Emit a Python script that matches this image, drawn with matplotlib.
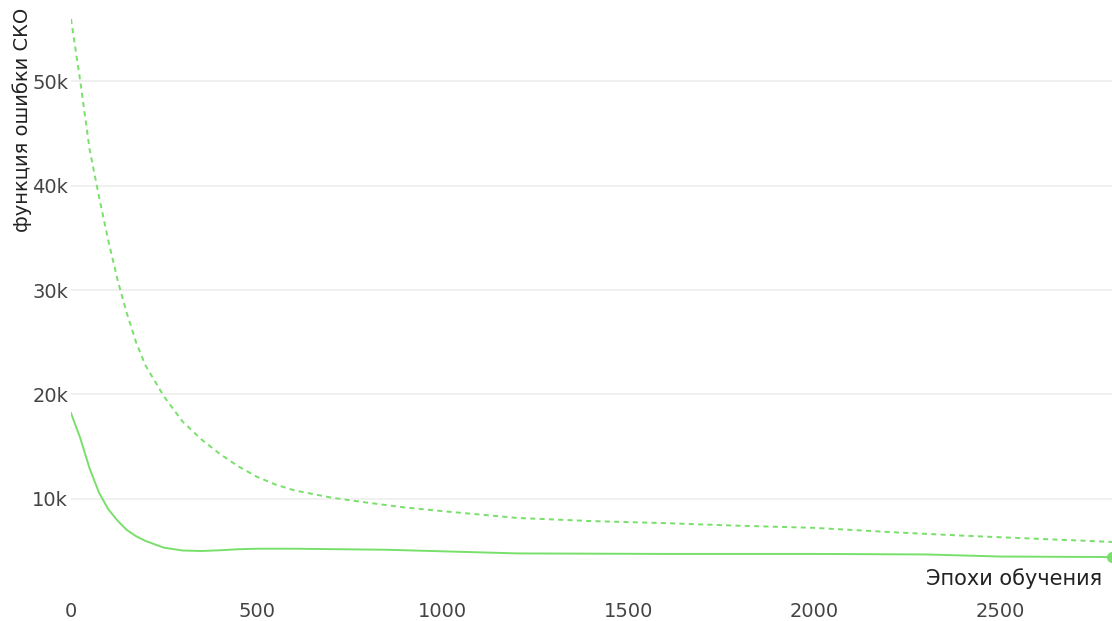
import matplotlib
matplotlib.use("Agg")
import matplotlib.pyplot as plt
from matplotlib.ticker import FuncFormatter

# training curves, MSE loss per epoch
epochs_val = [0, 25, 50, 75, 100, 125, 150, 175, 200, 250, 300, 350, 400,
              450, 500, 550, 600, 700, 800, 900, 1000, 1200, 1400, 1600,
              1800, 2000, 2200, 2400, 2600, 2800]
loss_val = [56000, 50000, 43500, 39000, 34800, 31000, 27800, 25000, 22800,
            19800, 17400, 15700, 14300, 13100, 12100, 11350, 10800, 10100,
            9600, 9150, 8800, 8150, 7850, 7650, 7400, 7200, 6800, 6450, 6150,
            5850]

epochs_train = [0, 25, 50, 75, 100, 125, 150, 175, 200, 250, 300, 350, 400,
                450, 500, 600, 850, 1000, 1200, 1600, 2000, 2300, 2500, 2800]
loss_train = [18200, 15800, 12900, 10600, 9000, 7900, 7000, 6400, 5950, 5300,
              5030, 4980, 5050, 5150, 5200, 5200, 5100, 4950, 4750, 4700,
              4700, 4650, 4450, 4400]

yticks = [10000, 20000, 30000, 40000, 50000]
xticks = [0, 500, 1000, 1500, 2000, 2500]

green = "#78e06a"
W, H = 1112, 621

fig = plt.figure(figsize=(W / 100, H / 100), dpi=100)
# plot area in pixels: left 71, right 1112, bottom 592, top -10
ax = fig.add_axes([71 / W, (H - 592) / H, 1041 / W, 602 / H])

ax.plot(epochs_val, loss_val, color=green, lw=1.4, dashes=(2.6, 2.2))
ax.plot(epochs_train, loss_train, color=green, lw=1.4)
ax.plot(epochs_train[-1], loss_train[-1], "o", color=green, ms=7,
        clip_on=False)

ax.set_xlim(0, 2800)
ax.set_ylim(1050, 58770)
ax.set_xticks(xticks)
ax.set_yticks(yticks)
ax.yaxis.set_major_formatter(FuncFormatter(lambda v, p: "%dk" % (v / 1000)))

for s in ax.spines.values():
    s.set_visible(False)
ax.grid(axis="y", color="#f0f0f0", lw=1.4)
ax.set_axisbelow(True)
ax.tick_params(length=0, labelsize=14, colors="#444444")
ax.tick_params(axis="x", pad=7)
ax.tick_params(axis="y", pad=2)

fig.text(1102 / W, (H - 579) / H, "Эпохи обучения", ha="right", va="center",
         fontsize=15, color="#222222")
fig.text(22 / W, (H - 120) / H, "функция ошибки СКО", rotation=90,
         ha="center", va="center", fontsize=14, color="#222222")

fig.savefig("out.png", dpi=100)
